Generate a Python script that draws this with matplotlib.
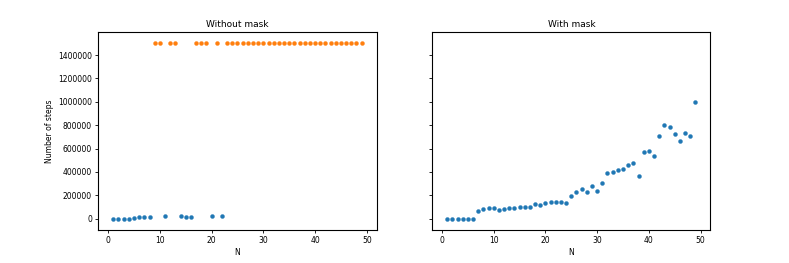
import matplotlib
matplotlib.use("Agg")
import matplotlib.pyplot as plt

# Without mask: solved runs (blue) and capped runs (orange)
n_solved = [1, 2, 3, 4, 5, 6, 7, 8, 11, 14, 15, 16, 20, 22]
steps_solved = [500, 1000, 1500, 1500, 2500, 12000, 15000, 18000, 25000, 20000, 17000, 19000, 24000, 27000]
n_capped = [9, 10, 12, 13, 17, 18, 19, 21] + list(range(23, 50))
steps_capped = [1500000] * len(n_capped)

# With mask
n_mask = list(range(1, 50))
steps_mask = [0, 0, 0, 0, 0, 0, 66000, 81000, 89000, 89000, 78000, 87000, 92000, 95000,
              101000, 104000, 104000, 125000, 118000, 136000, 142000, 147000, 147000, 139000,
              196000, 227000, 255000, 227000, 281000, 238000, 306000, 388000, 400000, 419000,
              425000, 460000, 476000, 366000, 573000, 581000, 539000, 706000, 800000, 789000,
              723000, 664000, 732000, 712000, 1000000]

fig = plt.figure(figsize=(7.89, 2.63), dpi=100)
ax1 = fig.add_axes([0.1246, 0.1255, 0.3528, 0.7540])
ax2 = fig.add_axes([0.5479, 0.1255, 0.3524, 0.7540], sharey=ax1)

ms = 8
lw = 0.3
ax1.scatter(n_solved, steps_solved, s=ms, color='#1f77b4', linewidths=lw)
ax1.scatter(n_capped, steps_capped, s=ms, color='#ff7f0e', linewidths=lw)
ax1.set_title("Without mask", fontsize=6.5, pad=3.5)
ax1.set_xlabel("N", fontsize=5.5, labelpad=2)
ax1.set_ylabel("Number of steps", fontsize=5.5, labelpad=3)

ax2.scatter(n_mask, steps_mask, s=ms, color='#1f77b4', linewidths=lw)
ax2.set_title("With mask", fontsize=6.5, pad=3.5)
ax2.set_xlabel("N", fontsize=5.5, labelpad=2)
plt.setp(ax2.get_yticklabels(), visible=False)

for ax in (ax1, ax2):
    ax.set_xlim(-1.9, 51.9)
    ax.set_ylim(-96000, 1600000)
    ax.set_xticks([0, 10, 20, 30, 40, 50])
    ax.set_yticks([0, 200000, 400000, 600000, 800000, 1000000, 1200000, 1400000])
    ax.ticklabel_format(axis='y', style='plain', useOffset=False)
    ax.tick_params(labelsize=5.5, length=2.5, width=0.6, pad=2)
    for sp in ax.spines.values():
        sp.set_linewidth(0.8)

fig.savefig("out.png", dpi=100)
